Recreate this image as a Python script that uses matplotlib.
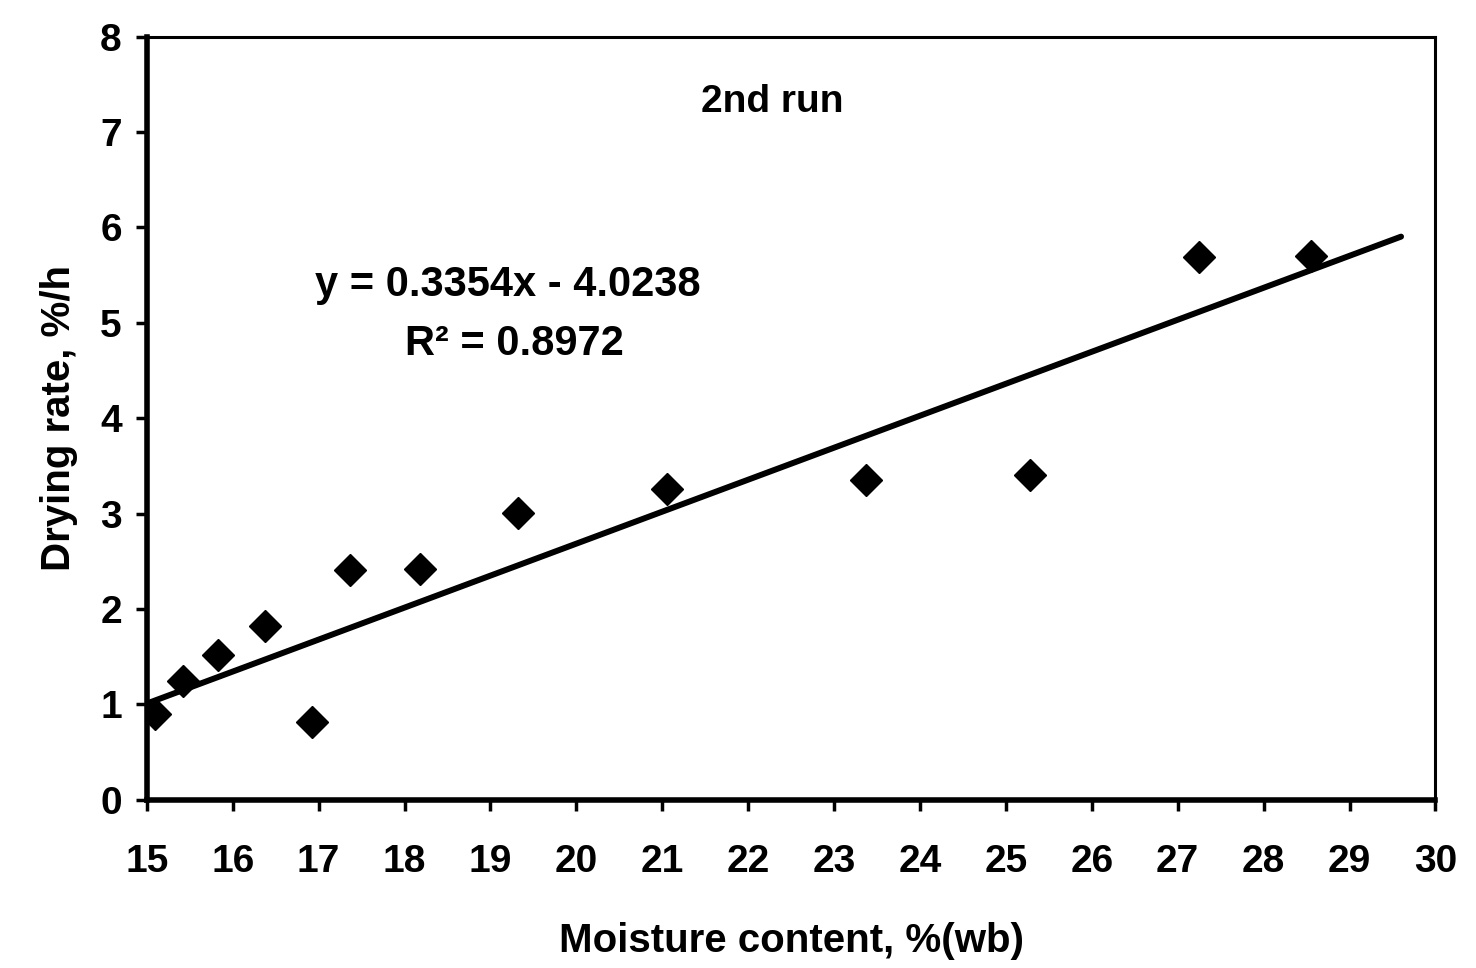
import matplotlib
matplotlib.use("Agg")
import matplotlib.pyplot as plt
import numpy as np

# Datos (2nd run)
moisture = [15.10, 15.42, 15.83, 16.37, 16.92, 17.37, 18.18, 19.32, 21.06, 23.37, 25.28, 27.25, 28.55]
drying_rate = [0.90, 1.24, 1.52, 1.82, 0.81, 2.41, 2.42, 3.01, 3.26, 3.35, 3.40, 5.69, 5.70]

# Linea de tendencia reportada
slope = 0.3354
intercept = -4.0238
trend_range = [15.0, 29.6]

x_ticks = list(range(15, 31))
y_ticks = list(range(0, 9))

plt.rcParams['font.family'] = ['Liberation Sans', 'DejaVu Sans']

fig = plt.figure(figsize=(14.76, 9.68), dpi=100)
ax = fig.add_axes([0.0995, 0.174, 0.873, 0.788])

# Tendencia
tx = np.array(trend_range)
ax.plot(tx, slope * tx + intercept, color='black', linewidth=4.3, solid_capstyle='round', zorder=2)

# Puntos
ax.plot(moisture, drying_rate, linestyle='none', marker='D', markersize=16,
        color='black', zorder=3)

ax.set_xlim(15, 30)
ax.set_ylim(0, 8)
ax.set_xticks(x_ticks)
ax.set_yticks(y_ticks)
ax.set_xticklabels([str(t) for t in x_ticks], fontsize=28, fontweight='bold')
ax.set_yticklabels([str(t) for t in y_ticks], fontsize=28, fontweight='bold')
ax.tick_params(axis='x', direction='out', length=8, width=2.5, pad=24)
ax.tick_params(axis='y', direction='out', length=8, width=2.5, pad=10)

for side in ['left', 'bottom']:
    ax.spines[side].set_linewidth(4)
for side in ['top', 'right']:
    ax.spines[side].set_linewidth(2.2)

ax.set_xlabel("Moisture content, %(wb)", fontsize=29, fontweight='bold', labelpad=30)
ax.set_ylabel("Drying rate, %/h", fontsize=29, fontweight='bold', labelpad=16)

ax.text(0.485, 0.915, "2nd run", transform=ax.transAxes, ha='center', va='center',
        fontsize=28, fontweight='bold')
ax.text(0.28, 0.675, "y = 0.3354x - 4.0238", transform=ax.transAxes, ha='center', va='center',
        fontsize=30, fontweight='bold')
ax.text(0.285, 0.597, "R² = 0.8972", transform=ax.transAxes, ha='center', va='center',
        fontsize=30, fontweight='bold')

fig.savefig("out.png", dpi=100)
plt.close(fig)
